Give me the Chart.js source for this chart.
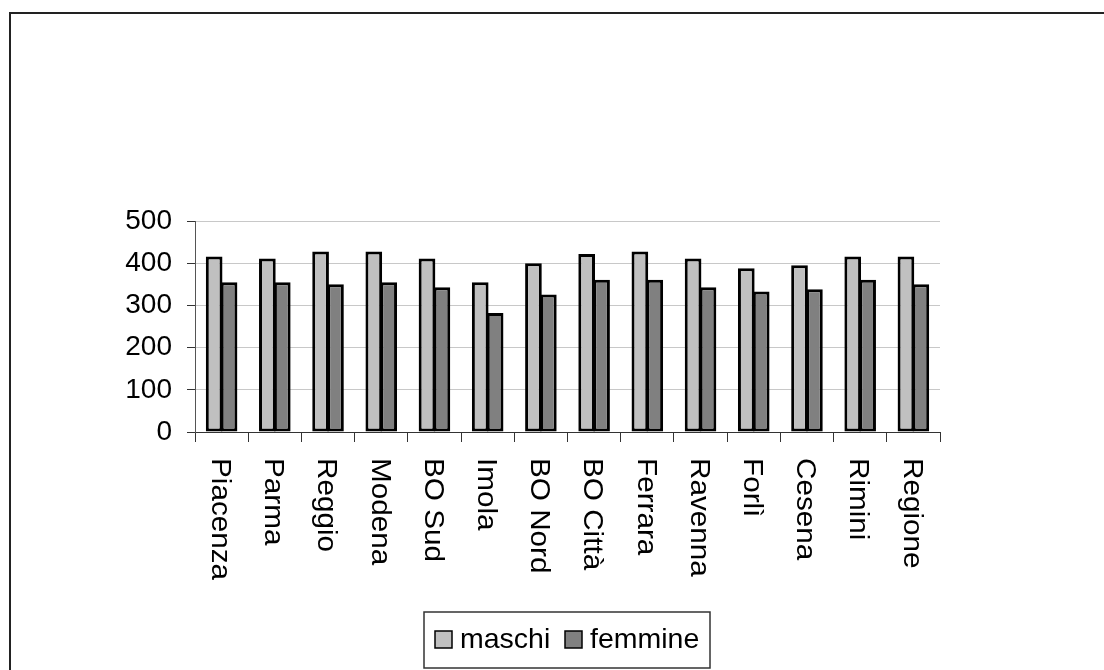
<!DOCTYPE html>
<html>
<head>
<meta charset="utf-8">
<script src="https://cdn.jsdelivr.net/npm/chart.js@4"></script>
<style>
  html, body { margin: 0; padding: 0; background: #fff; }
  canvas { display: block; }
</style>
</head>
<body>
<canvas id="grafico" width="1104" height="670"></canvas>
<script>
// dati per distretto
const categorie = ['Piacenza', 'Parma', 'Reggio', 'Modena', 'BO Sud', 'Imola', 'BO Nord',
                   'BO Città', 'Ferrara', 'Ravenna', 'Forlì', 'Cesena', 'Rimini', 'Regione'];
const maschi = [416, 411, 428, 428, 411, 355, 400, 422, 428, 411, 388, 395, 416, 416];
const femmine = [355, 355, 350, 355, 343, 282, 326, 361, 361, 343, 333, 338, 361, 350];
const nomiSerie = ['maschi', 'femmine'];
const yTicks = [0, 100, 200, 300, 400, 500];

const FONT = "'Liberation Sans', Arial, sans-serif";

// etichette verticali dell'asse x, cornice e legenda
const disegnaExtra = {
    id: 'disegnaExtra',
    afterDraw(chart) {
        const ctx = chart.ctx;
        const xs = chart.scales.x;
        ctx.save();

        // etichette ruotate (lette dall'alto verso il basso)
        ctx.fillStyle = '#000';
        ctx.font = '28px ' + FONT;
        ctx.textAlign = 'left';
        ctx.textBaseline = 'middle';
        categorie.forEach((nome, i) => {
            const x = xs.getPixelForValue(i);
            ctx.save();
            ctx.translate(x - 2, 458);
            ctx.rotate(Math.PI / 2);
            ctx.scale(1.06, 1);
            ctx.fillText(nome, 0, 0);
            ctx.restore();
        });

        // cornice
        ctx.strokeStyle = '#222';
        ctx.lineWidth = 2;
        ctx.beginPath();
        ctx.moveTo(10, 670);
        ctx.lineTo(10, 13);
        ctx.lineTo(1104, 13);
        ctx.stroke();

        // legenda
        ctx.strokeStyle = '#333';
        ctx.lineWidth = 1.5;
        ctx.strokeRect(424, 612, 286, 56);
        const posizioni = [435, 565];
        ctx.font = '28.5px ' + FONT;
        chart.data.datasets.forEach((ds, i) => {
            const x0 = posizioni[i];
            ctx.fillStyle = ds.backgroundColor;
            ctx.fillRect(x0, 631, 17, 17);
            ctx.strokeStyle = '#000';
            ctx.lineWidth = 1.5;
            ctx.strokeRect(x0, 631, 17, 17);
            ctx.fillStyle = '#000';
            ctx.fillText(ds.label, x0 + 25, 640);
        });
        ctx.restore();
    }
};

new Chart(document.getElementById('grafico'), {
    type: 'bar',
    data: {
        labels: categorie,
        datasets: [
            {
                label: nomiSerie[0],
                data: maschi,
                backgroundColor: '#c0c0c0',
                borderColor: '#000',
                borderWidth: 3,
                borderSkipped: false,
                barPercentage: 1.12,
                categoryPercentage: 0.56
            },
            {
                label: nomiSerie[1],
                data: femmine,
                backgroundColor: '#808080',
                borderColor: '#000',
                borderWidth: 3,
                borderSkipped: false,
                barPercentage: 1.12,
                categoryPercentage: 0.56
            }
        ]
    },
    options: {
        responsive: false,
        devicePixelRatio: 1,
        animation: false,
        layout: { padding: { left: 0, right: 164, top: 221, bottom: 0 } },
        plugins: {
            legend: { display: false },
            tooltip: { enabled: false }
        },
        scales: {
            x: {
                grid: {
                    offset: true,
                    drawOnChartArea: false,
                    drawTicks: true,
                    tickLength: 10,
                    color: '#333'
                },
                border: { color: '#333', width: 1 },
                ticks: { display: false },
                afterFit(scale) { scale.height = 670 - 432; }
            },
            y: {
                min: 0,
                max: 500,
                afterBuildTicks(scale) { scale.ticks = yTicks.map(v => ({ value: v })); },
                grid: {
                    color: '#c8c8c8',
                    lineWidth: 1,
                    tickColor: '#333',
                    tickLength: 8
                },
                border: { color: '#555', width: 1 },
                ticks: {
                    color: '#000',
                    padding: 15,
                    font: { family: FONT, size: 28 }
                },
                afterFit(scale) { scale.width = 195; }
            }
        }
    },
    plugins: [disegnaExtra]
});
</script>
</body>
</html>
